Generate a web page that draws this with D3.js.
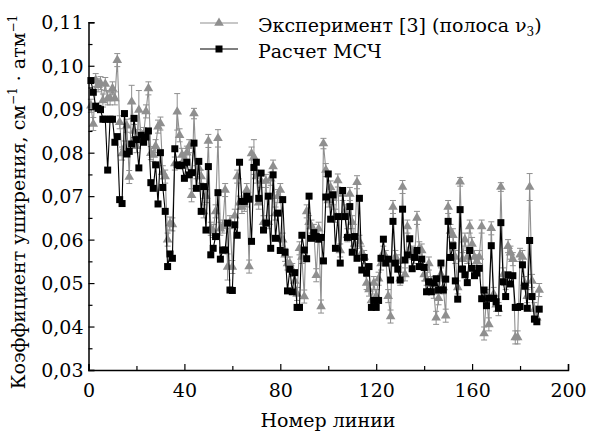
<!DOCTYPE html>
<html><head><meta charset="utf-8">
<script src="https://cdn.jsdelivr.net/npm/d3@7"></script>
<style>body{margin:0;background:#fff}svg{display:block}</style>
</head><body><svg id="c" width="591" height="432"></svg>
<script>
// Calculated (МСЧ) broadening coefficients, line numbers 1..188
const calc = [0.0966,0.0939,0.0907,0.0902,0.0899,0.0877,0.0877,0.0760,0.0877,0.0877,
0.0824,0.0837,0.0692,0.0683,0.0890,0.0797,0.0803,0.0820,0.0879,0.0830,
0.0765,0.0840,0.0824,0.0836,0.0850,0.0731,0.0718,0.0772,0.0682,0.0800,
0.0720,0.0665,0.0538,0.0567,0.0557,0.0809,0.0772,0.0770,0.0771,0.0741,
0.0778,0.0749,0.0754,0.0822,0.0718,0.0780,0.0665,0.0722,0.0622,0.0768,
0.0565,0.0580,0.0607,0.0708,0.0555,0.0576,0.0576,0.0638,0.0484,0.0483,
0.0634,0.0610,0.0778,0.0688,0.0688,0.0700,0.0693,0.0596,0.0766,0.0778,
0.0695,0.0753,0.0622,0.0638,0.0700,0.0580,0.0749,0.0603,0.0661,0.0575,
0.0692,0.0571,0.0482,0.0532,0.0480,0.0524,0.0444,0.0444,0.0610,0.0576,
0.0556,0.0700,0.0603,0.0616,0.0607,0.0601,0.0605,0.0551,0.0698,0.0751,
0.0647,0.0703,0.0580,0.0653,0.0546,0.0713,0.0653,0.0605,0.0676,0.0571,
0.0607,0.0557,0.0695,0.0530,0.0559,0.0523,0.0538,0.0444,0.0460,0.0444,
0.0460,0.0557,0.0601,0.0546,0.0555,0.0507,0.0642,0.0546,0.0532,0.0507,
0.0670,0.0553,0.0565,0.0602,0.0533,0.0559,0.0575,0.0538,0.0555,0.0536,
0.0480,0.0503,0.0480,0.0500,0.0510,0.0484,0.0546,0.0484,0.0509,0.0642,
0.0559,0.0586,0.0505,0.0463,0.0669,0.0532,0.0519,0.0501,0.0575,0.0534,
0.0517,0.0523,0.0534,0.0464,0.0484,0.0448,0.0465,0.0586,0.0465,0.0457,
0.0442,0.0639,0.0503,0.0469,0.0519,0.0498,0.0517,0.0444,0.0444,0.0446,
0.0542,0.0493,0.0442,0.0598,0.0469,0.0417,0.0411,0.0440];
// Experimental values [3], band ν3
const expt = [0.0908,0.0866,0.0967,0.0955,0.0960,0.0920,0.0958,0.0925,0.0925,0.0948,
0.0925,0.1013,0.0870,0.0798,0.0812,0.0862,0.0744,0.0917,0.0850,0.0815,
0.0898,0.0835,0.0843,0.0895,0.0948,0.0799,0.0795,0.0815,0.0860,0.0867,
0.0755,0.0745,0.0600,0.0637,0.0635,0.0775,0.0894,0.0840,0.0795,0.0785,
0.0800,0.0815,0.0702,0.0890,0.0755,0.0765,0.0745,0.0665,0.0700,0.0827,
0.0625,0.0620,0.0665,0.0833,0.0625,0.0630,0.0714,0.0537,0.0640,0.0537,
0.0655,0.0745,0.0685,0.0675,0.0680,0.0714,0.0538,0.0798,0.0790,0.0745,
0.0685,0.0735,0.0640,0.0735,0.0640,0.0740,0.0768,0.0660,0.0700,0.0714,
0.0600,0.0565,0.0545,0.0545,0.0530,0.0505,0.0475,0.0580,0.0560,0.0469,
0.0665,0.0640,0.0630,0.0620,0.0518,0.0625,0.0446,0.0821,0.0760,0.0690,
0.0720,0.0695,0.0655,0.0736,0.0575,0.0705,0.0665,0.0610,0.0705,0.0640,
0.0590,0.0732,0.0595,0.0570,0.0560,0.0500,0.0485,0.0460,0.0500,0.0470,
0.0510,0.0545,0.0570,0.0560,0.0470,0.0423,0.0675,0.0560,0.0550,0.0510,
0.0721,0.0520,0.0630,0.0580,0.0570,0.0560,0.0650,0.0580,0.0575,0.0520,
0.0510,0.0545,0.0500,0.0480,0.0420,0.0465,0.0520,0.0490,0.0425,0.0675,
0.0620,0.0610,0.0560,0.0490,0.0733,0.0555,0.0600,0.0560,0.0630,0.0590,
0.0560,0.0550,0.0560,0.0630,0.0384,0.0470,0.0405,0.0626,0.0475,0.0450,
0.0440,0.0721,0.0520,0.0500,0.0585,0.0570,0.0555,0.0375,0.0375,0.0565,
0.0560,0.0500,0.0470,0.0721,0.0505,0.0440,0.0420,0.0484];
// Experimental uncertainties: typical value and larger ones for some lines
const errTypical = 0.0015;
const errLarge = {12:0.0015,18:0.0038,21:0.0045,24:0.0015,37:0.0042,44:0.0012,50:0.0015,54:0.002,58:0.003,69:0.004,98:0.0012,131:0.0015,155:0.001,172:0.001,184:0.0031};
const xTicks = [0,40,80,120,160,200];
const yTicks = [0.03,0.04,0.05,0.06,0.07,0.08,0.09,0.10,0.11];
const legendLabels = ["Эксперимент [3] (полоса ν", "Расчет МСЧ"];

const svg = d3.select("#c");
const FONT = "DejaVu Serif";
const x = d3.scaleLinear().domain([0,200]).range([88.5,568]);
const y = d3.scaleLinear().domain([0.03,0.11]).range([370,22.3]);
const fmt = v => d3.format(".2f")(v).replace(".", ",");

const gray = "#8f8f8f";
const expData = expt.map((v,i)=>({n:i+1,v,e:errLarge[i+1]||errTypical}));
const calcData = calc.map((v,i)=>({n:i+1,v}));

// experimental error bars
const eb = svg.append("g").attr("stroke",gray).attr("stroke-width",1);
expData.forEach(d=>{
  const cx=x(d.n), y1=y(d.v+d.e), y0=y(d.v-d.e);
  eb.append("line").attr("x1",cx).attr("x2",cx).attr("y1",y1).attr("y2",y0);
  eb.append("line").attr("x1",cx-3).attr("x2",cx+3).attr("y1",y1).attr("y2",y1);
  eb.append("line").attr("x1",cx-3).attr("x2",cx+3).attr("y1",y0).attr("y2",y0);
});
const line = d3.line().x(d=>x(d.n)).y(d=>y(d.v));
svg.append("path").datum(expData).attr("d",line).attr("fill","none").attr("stroke",gray).attr("stroke-width",1.1);
const tri = d3.symbol().type(d3.symbolTriangle).size(40);
svg.append("g").selectAll("path").data(expData).join("path")
  .attr("d",tri).attr("transform",d=>`translate(${x(d.n)},${y(d.v)})`).attr("fill",gray);

svg.append("path").datum(calcData).attr("d",line).attr("fill","none").attr("stroke","#000").attr("stroke-width",1.1);
svg.append("g").selectAll("rect").data(calcData).join("rect")
  .attr("x",d=>x(d.n)-3.5).attr("y",d=>y(d.v)-3.5).attr("width",7).attr("height",7).attr("fill","#000");

// axes
const xAxis = d3.axisBottom(x).tickValues(d3.range(0,201,20)).tickSize(-6).tickFormat(d=>xTicks.includes(d)?d:"").tickPadding(14);
const gx = svg.append("g").attr("transform","translate(0,370)").call(xAxis);
gx.selectAll(".tick line").attr("y2",d=>xTicks.includes(d)?-6:-4);
const yAxis = d3.axisLeft(y).tickValues(d3.range(0,17).map(i=>0.03+i*0.005)).tickSize(-6).tickFormat(d=>yTicks.some(t=>Math.abs(t-d)<1e-9)?fmt(d):"").tickPadding(5);
const gy = svg.append("g").attr("transform","translate(88.5,0)").call(yAxis);
gy.selectAll(".tick line").attr("x2",d=>yTicks.some(t=>Math.abs(t-d)<1e-9)?6:4);
[gx,gy].forEach(g=>{
  g.attr("font-family",FONT);
  g.select(".domain").attr("stroke","#000").attr("stroke-width",1.5);
  g.selectAll(".tick line").attr("stroke","#000").attr("stroke-width",1.2);
  g.selectAll("text").attr("font-family",FONT).attr("font-size",19).attr("fill","#000");
});
gx.selectAll("text").attr("dy","0.71em");
gy.selectAll("text").attr("dy","0.35em");

// axis titles
svg.append("text").attr("x",328).attr("y",427).attr("text-anchor","middle")
  .attr("font-family",FONT).attr("font-size",19).text("Номер линии");
const yl = svg.append("text").attr("transform","translate(25,202) rotate(-90)").attr("text-anchor","middle")
  .attr("font-family",FONT).attr("font-size",19);
yl.append("tspan").text("Коэффициент уширения, см");
yl.append("tspan").attr("font-size",12).attr("dy",-8).text("−1");
yl.append("tspan").attr("dy",8).text(" · атм");
yl.append("tspan").attr("font-size",12).attr("dy",-8).text("−1");

// legend
const lg = svg.append("g");
lg.append("line").attr("x1",200).attr("x2",238).attr("y1",23).attr("y2",23).attr("stroke",gray).attr("stroke-width",1.1);
lg.append("path").attr("d",tri).attr("transform","translate(219,23)").attr("fill",gray);
lg.append("line").attr("x1",200).attr("x2",238).attr("y1",49).attr("y2",49).attr("stroke","#000").attr("stroke-width",1.1);
lg.append("rect").attr("x",215.5).attr("y",45.5).attr("width",7).attr("height",7).attr("fill","#000");
const t1 = lg.append("text").attr("x",258).attr("y",32).attr("font-family",FONT).attr("font-size",19);
t1.append("tspan").text(legendLabels[0]);
t1.append("tspan").attr("font-size",12).attr("dy",4).text("3");
t1.append("tspan").attr("dy",-4).text(")");
lg.append("text").attr("x",258).attr("y",58).attr("font-family",FONT).attr("font-size",19).text(legendLabels[1]);
</script></body></html>
